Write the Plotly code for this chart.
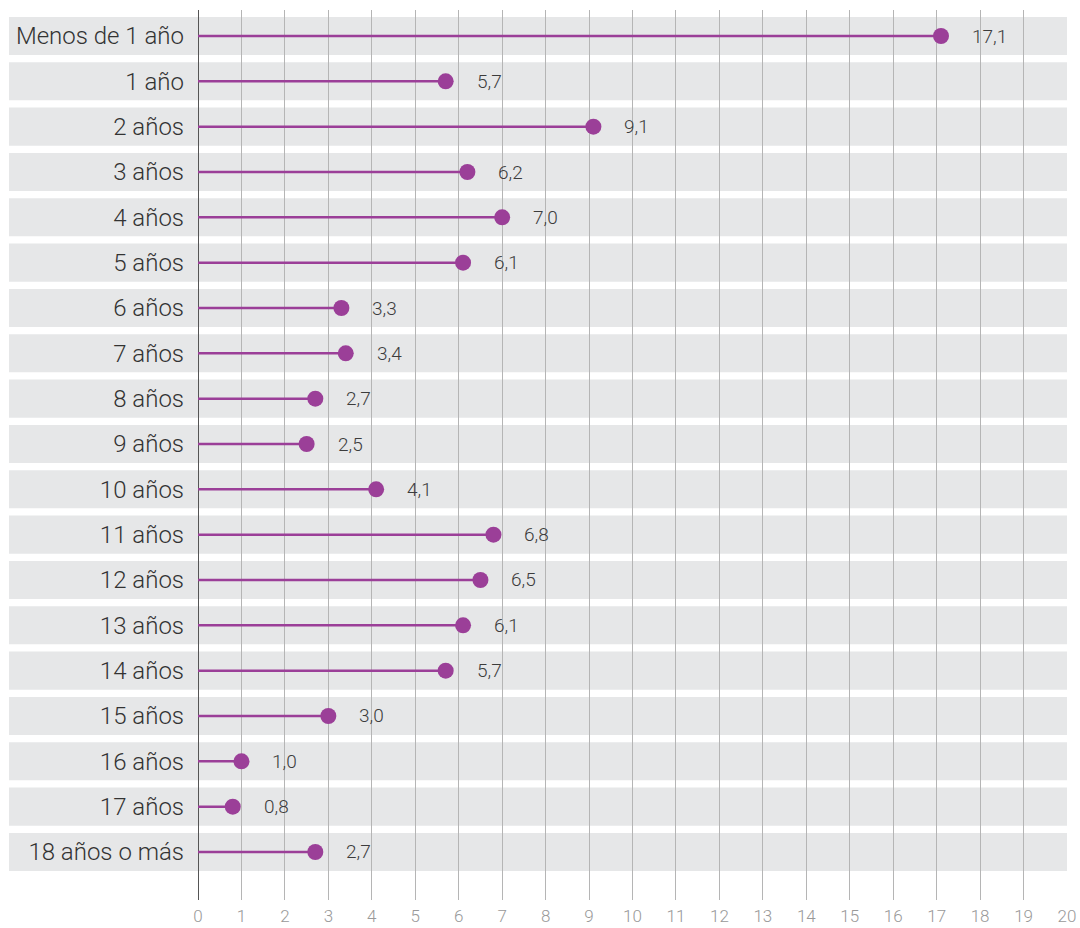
import plotly.graph_objects as go

# Age groups (top to bottom) and their shares in percent
categories = [
    "Menos de 1 año", "1 año", "2 años", "3 años", "4 años", "5 años",
    "6 años", "7 años", "8 años", "9 años", "10 años", "11 años",
    "12 años", "13 años", "14 años", "15 años", "16 años", "17 años",
    "18 años o más",
]
values = [17.1, 5.7, 9.1, 6.2, 7.0, 6.1, 3.3, 3.4, 2.7, 2.5,
          4.1, 6.8, 6.5, 6.1, 5.7, 3.0, 1.0, 0.8, 2.7]
x_ticks = list(range(0, 21))

PURPLE = "#9b3f98"
BAND = "#e6e7e8"
FONT = "Roboto"

rows = list(range(len(categories)))

fig = go.Figure()

# Stems from zero to each value
stem_x, stem_y = [], []
for r, v in zip(rows, values):
    stem_x += [0, v, None]
    stem_y += [r, r, None]
fig.add_trace(go.Scatter(
    x=stem_x, y=stem_y, mode="lines",
    line=dict(color=PURPLE, width=2.5),
    hoverinfo="skip", showlegend=False,
))

# Dots at the values
fig.add_trace(go.Scatter(
    x=values, y=rows, mode="markers",
    marker=dict(color=PURPLE, size=16, line=dict(width=0)),
    showlegend=False,
))

# Light grey row bands behind everything
band_half = 0.42
for r in rows:
    fig.add_shape(
        type="rect", xref="paper", yref="y",
        x0=-0.2175, x1=1.0, y0=r - band_half, y1=r + band_half,
        fillcolor=BAND, line=dict(width=0), layer="below",
    )

# Value labels to the right of each dot
for r, v in zip(rows, values):
    fig.add_annotation(
        x=v, y=r, xref="x", yref="y",
        text=f"{v:.1f}".replace(".", ","),
        showarrow=False, xanchor="left", xshift=29,
        font=dict(family=FONT, size=19, color="#3c3c3c", weight=300),
    )

fig.update_layout(
    width=1080, height=928,
    margin=dict(l=198, r=13, t=10, b=28),
    paper_bgcolor="white", plot_bgcolor="rgba(0,0,0,0)",
    font=dict(family=FONT),
)

fig.update_xaxes(
    range=[0, 20], tickvals=x_ticks, ticktext=[str(t) for t in x_ticks],
    showgrid=True, gridcolor="#b5b5b5", gridwidth=1,
    zeroline=True, zerolinecolor="#555555", zerolinewidth=1,
    showline=False, ticks="", automargin=False, ticklabelstandoff=4,
    tickfont=dict(family=FONT, size=17, color="#999999", weight=300),
    fixedrange=True,
)

fig.update_yaxes(
    range=[len(categories) - 1 + 1.059, -0.5735],
    tickvals=rows, ticktext=categories,
    showgrid=False, zeroline=False, showline=False,
    ticks="", ticklabelstandoff=13, automargin=False,
    tickfont=dict(family=FONT, size=24, color="#333333", weight=300),
    fixedrange=True,
)

fig.write_html("out.html")
